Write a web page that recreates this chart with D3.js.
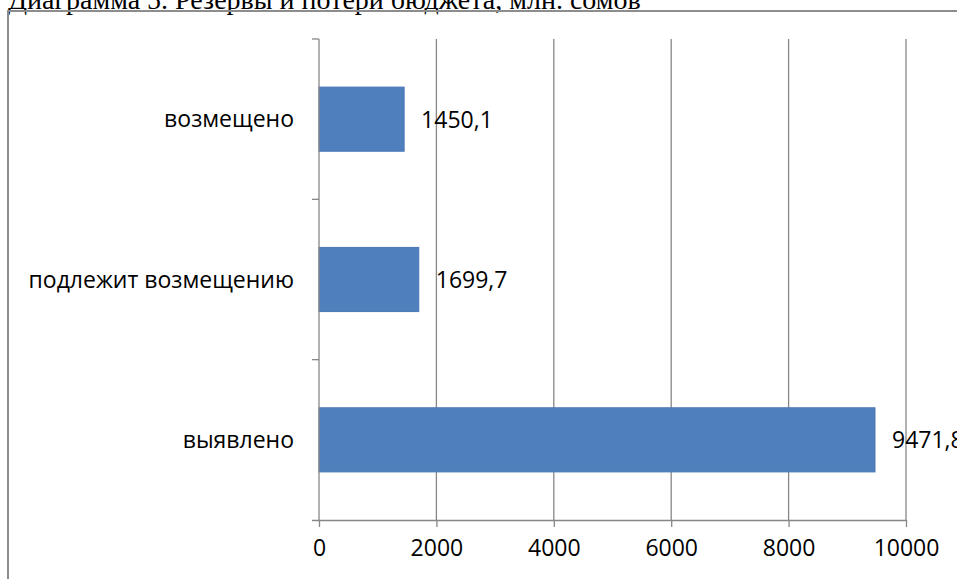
<!DOCTYPE html>
<html>
<head>
<meta charset="utf-8">
<script src="https://cdn.jsdelivr.net/npm/d3@7"></script>
<style>
  html, body { margin: 0; padding: 0; background: #fff; overflow: hidden; }
  svg { display: block; }
</style>
</head>
<body>
<svg id="chart" width="957" height="579"></svg>
<script>
// Budget reserves and losses, million som
const categories = ["выявлено", "подлежит возмещению", "возмещено"];
const values = [9471.8, 1699.7, 1450.1];
const valueLabels = ["9471,8", "1699,7", "1450,1"];
const xTicks = [0, 2000, 4000, 6000, 8000, 10000];
const title = "Диаграмма 5. Резервы и потери бюджета, млн. сомов";

const svg = d3.select("#chart");
const W = 957, H = 579;
const plot = { left: 319, right: 906, top: 39, bottom: 520 };
const gridColor = "#878787";
const sansFont = "'Open Sans', 'DejaVu Sans', sans-serif";

// heading (partly cut at the top edge)
svg.append("text")
  .attr("x", 8).attr("y", 8.5)
  .attr("font-family", "'Liberation Serif', 'Times New Roman', serif")
  .attr("font-size", 28)
  .attr("fill", "#000")
  .text(title);

// outer chart frame
svg.append("rect")
  .attr("x", 8).attr("y", 11)
  .attr("width", W + 20).attr("height", H + 20)
  .attr("fill", "none")
  .attr("stroke", "#8d8d8d")
  .attr("stroke-width", 2);

const x = d3.scaleLinear().domain([0, 10000]).range([plot.left, plot.right]);
// bottom-to-top order: first category sits at the bottom
const y = d3.scaleBand()
  .domain(categories.slice().reverse())
  .range([plot.top, plot.bottom])
  .paddingInner(0.6).paddingOuter(0.3);

// vertical gridlines
svg.append("g")
  .selectAll("line")
  .data(xTicks.slice(1))
  .join("line")
  .attr("x1", d => x(d)).attr("x2", d => x(d))
  .attr("y1", plot.top).attr("y2", plot.bottom)
  .attr("stroke", gridColor).attr("stroke-width", 1.3);

// bars
svg.append("g")
  .selectAll("rect")
  .data(categories)
  .join("rect")
  .attr("x", x(0))
  .attr("y", d => y(d))
  .attr("width", (d, i) => x(values[i]) - x(0))
  .attr("height", y.bandwidth())
  .attr("fill", "#4f7fbd")
  .attr("stroke", "#4a78b4")
  .attr("stroke-width", 1);

// x axis
const xAxis = svg.append("g")
  .attr("transform", `translate(0,${plot.bottom})`)
  .call(d3.axisBottom(x).tickValues(xTicks).tickSize(7).tickPadding(13).tickFormat(d3.format("d")));
xAxis.select(".domain").attr("stroke", gridColor).attr("stroke-width", 1.3)
  .attr("d", `M${plot.left - 7},0.5H${plot.right}`);
xAxis.selectAll(".tick line").attr("stroke", gridColor).attr("stroke-width", 1.3);
xAxis.selectAll(".tick text")
  .attr("font-family", sansFont).attr("font-size", 23).attr("fill", "#000");

// y axis with ticks between categories
const catBoundaries = d3.range(categories.length + 1).map(i => plot.top + i * (plot.bottom - plot.top) / categories.length);
const yAxis = svg.append("g");
yAxis.append("line")
  .attr("x1", plot.left).attr("x2", plot.left)
  .attr("y1", plot.top).attr("y2", plot.bottom)
  .attr("stroke", gridColor).attr("stroke-width", 1.3);
yAxis.selectAll("line.tk")
  .data(catBoundaries.slice(0, -1))
  .join("line").attr("class", "tk")
  .attr("x1", plot.left - 7).attr("x2", plot.left)
  .attr("y1", d => d).attr("y2", d => d)
  .attr("stroke", gridColor).attr("stroke-width", 1.3);

// category labels
svg.append("g")
  .selectAll("text")
  .data(categories)
  .join("text")
  .attr("x", plot.left - 25)
  .attr("y", d => y(d) + y.bandwidth() / 2)
  .attr("dy", "0.35em")
  .attr("text-anchor", "end")
  .attr("font-family", sansFont).attr("font-size", 23).attr("fill", "#000")
  .text(d => d);

// value labels
svg.append("g")
  .selectAll("text")
  .data(categories)
  .join("text")
  .attr("x", (d, i) => x(values[i]) + 17)
  .attr("y", d => y(d) + y.bandwidth() / 2)
  .attr("dy", "0.37em")
  .attr("font-family", sansFont).attr("font-size", 23).attr("fill", "#000")
  .text((d, i) => valueLabels[i]);
</script>
</body>
</html>
